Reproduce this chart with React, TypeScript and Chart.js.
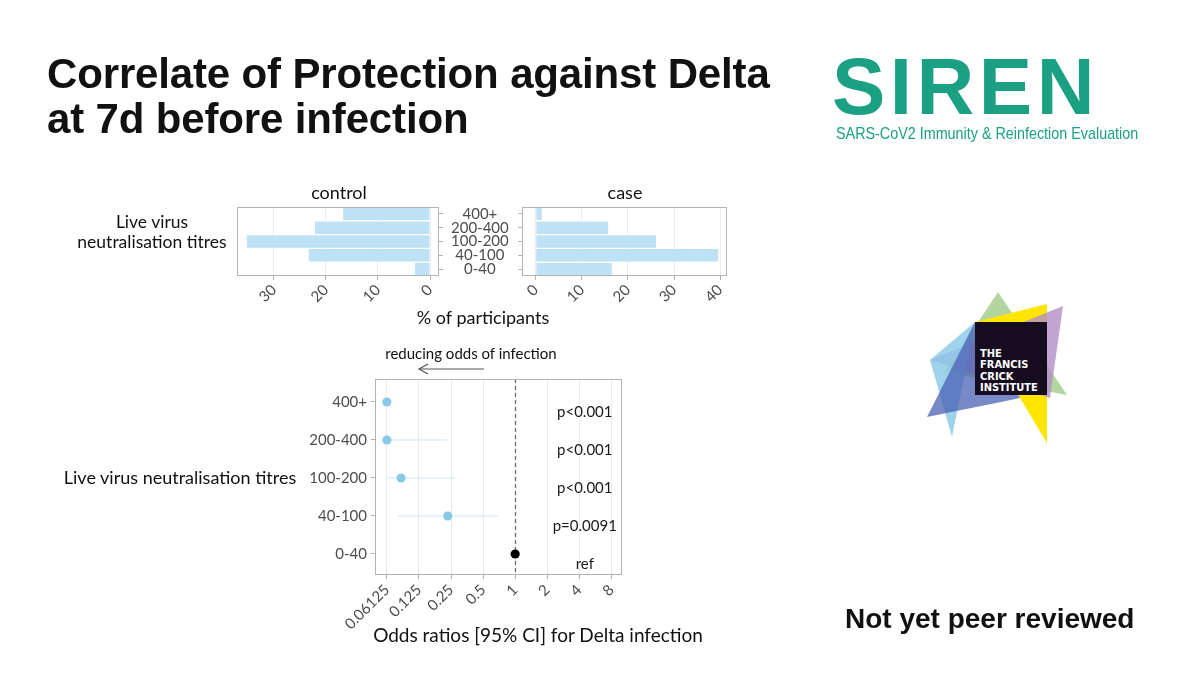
import React, { useEffect, useRef } from "react";
import { Chart, registerables } from "chart.js";
Chart.register(...registerables);

// ---------- data ----------
const titreBands = ["400+", "200-400", "100-200", "40-100", "0-40"];
const controlPct = [16.7, 22.1, 35.2, 23.3, 2.9];
const casePct = [1.3, 15.7, 26.1, 39.6, 16.5];
const pctTicksControl = [0, 10, 20, 30];
const pctTicksCase = [0, 10, 20, 30, 40];
const oddsRatio = [0.0625, 0.0625, 0.085, 0.233, 1];
const ciLower = [0.0625, 0.0625, 0.0625, 0.079, 1];
const ciUpper = [0.0625, 0.23, 0.27, 0.69, 1];
const isRef = [false, false, false, false, true];
const pLabels = ["p<0.001", "p<0.001", "p<0.001", "p=0.0091", "ref"];
const orTicks = [0.0625, 0.125, 0.25, 0.5, 1, 2, 4, 8];
const orTickLabels = ["0.06125", "0.125", "0.25", "0.5", "1", "2", "4", "8"];
const refOR = 1;
const pLabelOR = 4.5;

// ---------- style ----------
const CHART_FONT = "Lato, 'Open Sans', 'DejaVu Sans', sans-serif";
const TITLE_FONT = "'Liberation Sans', Arial, sans-serif";
const BAR_COLOR = "#bee1f5";
const POINT_COLOR = "#89c9e8";
const CI_COLOR = "#cfe6f6";
const GRID = "#ebebeb";
const FRAME = "#b3b3b3";
const TICK_TXT = "#4d4d4d";
const W = 1200;
const H = 675;

const panelBorder = {
  id: "panelBorder",
  afterDatasetsDraw(chart: any) {
    const { ctx, chartArea: a } = chart;
    ctx.save();
    ctx.strokeStyle = FRAME;
    ctx.lineWidth = 1;
    ctx.strokeRect(a.left + 0.5, a.top + 0.5, a.right - a.left - 1, a.bottom - a.top - 1);
    ctx.restore();
  },
};

const refLine = {
  id: "refLine",
  beforeDatasetsDraw(chart: any) {
    const { ctx, chartArea: a, scales } = chart;
    const x = Math.round(scales.x.getPixelForValue(Math.log2(refOR))) + 0.5;
    ctx.save();
    ctx.strokeStyle = "#6e6e6e";
    ctx.lineWidth = 1.3;
    ctx.setLineDash([4, 3]);
    ctx.beginPath();
    ctx.moveTo(x, a.top);
    ctx.lineTo(x, a.bottom);
    ctx.stroke();
    ctx.restore();
  },
};

const pValueLabels = {
  id: "pValueLabels",
  afterDatasetsDraw(chart: any) {
    const { ctx, scales } = chart;
    ctx.save();
    ctx.fillStyle = "#1a1a1a";
    ctx.font = `15px ${CHART_FONT}`;
    ctx.textAlign = "center";
    ctx.textBaseline = "middle";
    const x = scales.x.getPixelForValue(Math.log2(pLabelOR));
    pLabels.forEach((lab, i) => {
      const y = scales.y.getPixelForValue(i) + 10;
      ctx.fillText(lab, x, y);
    });
    ctx.restore();
  },
};

function T(props: {
  x: number;
  y: number;
  size: number;
  children: React.ReactNode;
  color?: string;
}) {
  const { x, y, size, color = "#111" } = props;
  const style: React.CSSProperties = {
    position: "absolute",
    left: x,
    top: y,
    fontSize: size,
    color,
    fontFamily: CHART_FONT,
    lineHeight: 1.2,
    whiteSpace: "nowrap",
    textAlign: "center",
    transform: "translate(-50%, -50%)",
  };
  return <div style={style}>{props.children}</div>;
}

export default function App() {
  const ctrlRef = useRef<HTMLCanvasElement>(null);
  const caseRef = useRef<HTMLCanvasElement>(null);
  const forestRef = useRef<HTMLCanvasElement>(null);

  useEffect(() => {
    Chart.defaults.font.family = CHART_FONT;
    const tickFont = { size: 15 };
    const charts: Chart[] = [];

    // control panel (reversed)
    charts.push(
      new Chart(ctrlRef.current!, {
        type: "bar",
        data: {
          labels: titreBands,
          datasets: [{ data: controlPct, backgroundColor: BAR_COLOR, barPercentage: 0.9, categoryPercentage: 1 }],
        },
        options: {
          indexAxis: "y",
          responsive: false,
          animation: false,
          layout: { padding: { left: 237, top: 207, right: W - 439 - 90, bottom: H - 276 - 40 } },
          plugins: { legend: { display: false }, tooltip: { enabled: false } },
          scales: {
            x: {
              type: "linear",
              reverse: true,
              min: -1.73,
              max: 37.1,
              afterBuildTicks: (s: any) => {
                s.ticks = pctTicksControl.map((v) => ({ value: v }));
              },
              afterFit: (s: any) => {
                s.height = 40;
                s.paddingLeft = 0;
                s.paddingRight = 0;
              },
              grid: { color: GRID, tickColor: FRAME, tickLength: 4 },
              border: { display: false },
              ticks: { minRotation: 45, maxRotation: 45, autoSkip: false, padding: 1, color: TICK_TXT, font: tickFont },
            },
            y: {
              position: "right",
              grid: { offset: false, drawOnChartArea: false, tickColor: FRAME, tickLength: 4 },
              border: { display: false },
              afterFit: (s: any) => {
                s.width = 90;
              },
              ticks: { autoSkip: false, crossAlign: "center", padding: 8, color: TICK_TXT, font: tickFont },
            },
          },
        },
        plugins: [panelBorder],
      } as any)
    );

    // case panel
    charts.push(
      new Chart(caseRef.current!, {
        type: "bar",
        data: {
          labels: titreBands,
          datasets: [{ data: casePct, backgroundColor: BAR_COLOR, barPercentage: 0.9, categoryPercentage: 1 }],
        },
        options: {
          indexAxis: "y",
          responsive: false,
          animation: false,
          layout: { padding: { left: 522 - 10, top: 207, right: W - 727, bottom: H - 276 - 40 } },
          plugins: { legend: { display: false }, tooltip: { enabled: false } },
          scales: {
            x: {
              type: "linear",
              min: -3,
              max: 41.5,
              afterBuildTicks: (s: any) => {
                s.ticks = pctTicksCase.map((v) => ({ value: v }));
              },
              afterFit: (s: any) => {
                s.height = 40;
                s.paddingLeft = 0;
                s.paddingRight = 0;
              },
              grid: { color: GRID, tickColor: FRAME, tickLength: 4 },
              border: { display: false },
              ticks: { minRotation: 45, maxRotation: 45, autoSkip: false, padding: 1, color: TICK_TXT, font: tickFont },
            },
            y: {
              position: "left",
              grid: { offset: false, drawOnChartArea: false, tickColor: FRAME, tickLength: 4 },
              border: { display: false },
              afterFit: (s: any) => {
                s.width = 10;
              },
              ticks: { display: false, autoSkip: false },
            },
          },
        },
        plugins: [panelBorder],
      } as any)
    );

    // forest plot
    const pointData = oddsRatio
      .map((v, i) => ({ x: Math.log2(v), y: i, ref: isRef[i] }))
      .filter((p) => !p.ref)
      .map(({ x, y }) => ({ x, y }));
    const refData = oddsRatio
      .map((v, i) => ({ x: Math.log2(v), y: i, ref: isRef[i] }))
      .filter((p) => p.ref)
      .map(({ x, y }) => ({ x, y }));
    const ciSets = ciLower
      .map((lo, i) => ({ lo, hi: ciUpper[i], i }))
      .filter((c) => !isRef[c.i])
      .map((c) => ({
        type: "scatter",
        showLine: true,
        data: [
          { x: Math.log2(c.lo), y: c.i },
          { x: Math.log2(c.hi), y: c.i },
        ],
        borderColor: CI_COLOR,
        borderWidth: 1,
        pointRadius: 0,
      }));

    charts.push(
      new Chart(forestRef.current!, {
        type: "scatter",
        data: {
          datasets: [
            { data: pointData, backgroundColor: POINT_COLOR, pointRadius: 4.6, borderWidth: 0 },
            { data: refData, backgroundColor: "#000", pointRadius: 4.6, borderWidth: 0 },
            ...ciSets,
          ],
        },
        options: {
          responsive: false,
          animation: false,
          layout: { padding: { left: 375 - 70, top: 379, right: W - 622, bottom: H - 575 - 60 } },
          plugins: { legend: { display: false }, tooltip: { enabled: false } },
          scales: {
            x: {
              type: "linear",
              min: -4.37,
              max: 3.33,
              afterBuildTicks: (s: any) => {
                s.ticks = orTicks.map((v) => ({ value: Math.log2(v) }));
              },
              afterFit: (s: any) => {
                s.height = 60;
                s.paddingLeft = 0;
                s.paddingRight = 0;
              },
              grid: { color: GRID, tickColor: FRAME, tickLength: 4 },
              border: { display: false },
              ticks: {
                minRotation: 45,
                maxRotation: 45,
                autoSkip: false,
                padding: 2,
                color: TICK_TXT,
                font: tickFont,
                callback: (_v: any, idx: number) => orTickLabels[idx],
              },
            },
            y: {
              type: "linear",
              reverse: true,
              min: -0.605,
              max: 4.553,
              afterBuildTicks: (s: any) => {
                s.ticks = titreBands.map((_, i) => ({ value: i }));
              },
              afterFit: (s: any) => {
                s.width = 70;
              },
              grid: { drawOnChartArea: false, tickColor: FRAME, tickLength: 4 },
              border: { display: false },
              ticks: {
                autoSkip: false,
                padding: 4,
                color: TICK_TXT,
                font: tickFont,
                callback: (v: any) => titreBands[v],
              },
            },
          },
        },
        plugins: [refLine, pValueLabels, panelBorder],
      } as any)
    );

    return () => charts.forEach((c) => c.destroy());
  }, []);

  const canvasStyle: React.CSSProperties = { position: "absolute", left: 0, top: 0 };
  const crickFont = "'DejaVu Sans Condensed', 'Liberation Sans Narrow', sans-serif";

  return (
    <div
      style={{
        position: "absolute",
        left: 0,
        top: 0,
        width: W,
        height: H,
        background: "#fff",
        overflow: "hidden",
        fontFamily: CHART_FONT,
      }}
    >
      {/* Title */}
      <div
        style={{
          position: "absolute",
          left: 47,
          top: 51,
          fontFamily: TITLE_FONT,
          fontWeight: 700,
          fontSize: 42,
          letterSpacing: -0.15,
          lineHeight: "45px",
          color: "#111",
          whiteSpace: "nowrap",
        }}
      >
        Correlate of Protection against Delta
        <br />
        at 7d before infection
      </div>

      {/* SIREN logo */}
      <div
        style={{
          position: "absolute",
          left: 832,
          top: 47,
          fontFamily: TITLE_FONT,
          fontWeight: 700,
          fontSize: 80,
          lineHeight: 1,
          letterSpacing: 4.5,
          color: "#1ba083",
        }}
      >
        SIREN
      </div>
      <div
        style={{
          position: "absolute",
          left: 836,
          top: 125,
          fontFamily: TITLE_FONT,
          fontSize: 17,
          lineHeight: 1,
          color: "#1ba083",
          whiteSpace: "nowrap",
          transform: "scaleX(0.844)",
          transformOrigin: "0 0",
        }}
      >
        SARS-CoV2 Immunity &amp; Reinfection Evaluation
      </div>

      {/* Crick logo */}
      <svg style={{ position: "absolute", left: 0, top: 0 }} width={W} height={H}>
        <g style={{ mixBlendMode: "multiply" }}>
          <polygon points="998,292 1067,395 945,372" fill="#a6cf8f" opacity={0.85} />
          <polygon points="975,322 1047,304 1047,443 1020,398" fill="#ffe500" />
          <polygon points="1063,306 1050,398 930,360" fill="#b48ec6" opacity={0.8} />
          <polygon points="930,360 975,322 952,437" fill="#8ecbe9" opacity={0.85} />
          <polygon points="927,417 975,322 1020,398" fill="#4b62b4" opacity={0.75} />
        </g>
        <rect x={975} y={322} width={72} height={73} fill="#150d1f" />
        <text x={980} y={357} fill="#fff" fontSize={11} fontWeight={700} fontFamily={crickFont}>
          THE
        </text>
        <text x={980} y={368} fill="#fff" fontSize={11} fontWeight={700} fontFamily={crickFont}>
          FRANCIS
        </text>
        <text x={980} y={380} fill="#fff" fontSize={11} fontWeight={700} fontFamily={crickFont}>
          CRICK
        </text>
        <text x={980} y={391} fill="#fff" fontSize={11} fontWeight={700} fontFamily={crickFont}>
          INSTITUTE
        </text>
        {/* reducing odds arrow */}
        <line x1={484} y1={369} x2={419} y2={369} stroke="#555" strokeWidth={1.2} />
        <polyline points="428,364 419,369 428,374" fill="none" stroke="#555" strokeWidth={1.2} />
      </svg>

      {/* Chart text */}
      <T x={339} y={193} size={18}>control</T>
      <T x={625} y={193} size={18}>case</T>
      <div
        style={{
          position: "absolute",
          left: 152,
          top: 232,
          transform: "translate(-50%, -50%)",
          fontSize: 17.5,
          lineHeight: "20px",
          textAlign: "center",
          color: "#111",
          whiteSpace: "nowrap",
          fontFamily: CHART_FONT,
        }}
      >
        Live virus
        <br />
        neutralisation titres
      </div>
      <T x={483} y={318} size={18}>% of participants</T>
      <T x={471} y={353} size={15}>reducing odds of infection</T>
      <T x={180} y={478} size={18}>Live virus neutralisation titres</T>
      <T x={538} y={635} size={19}>Odds ratios [95% CI] for Delta infection</T>

      <canvas ref={ctrlRef} width={W} height={H} style={canvasStyle} />
      <canvas ref={caseRef} width={W} height={H} style={canvasStyle} />
      <canvas ref={forestRef} width={W} height={H} style={canvasStyle} />

      <div
        style={{
          position: "absolute",
          left: 845,
          top: 605,
          fontFamily: TITLE_FONT,
          fontWeight: 700,
          fontSize: 28,
          lineHeight: 1,
          color: "#111",
          whiteSpace: "nowrap",
        }}
      >
        Not yet peer reviewed
      </div>
    </div>
  );
}
